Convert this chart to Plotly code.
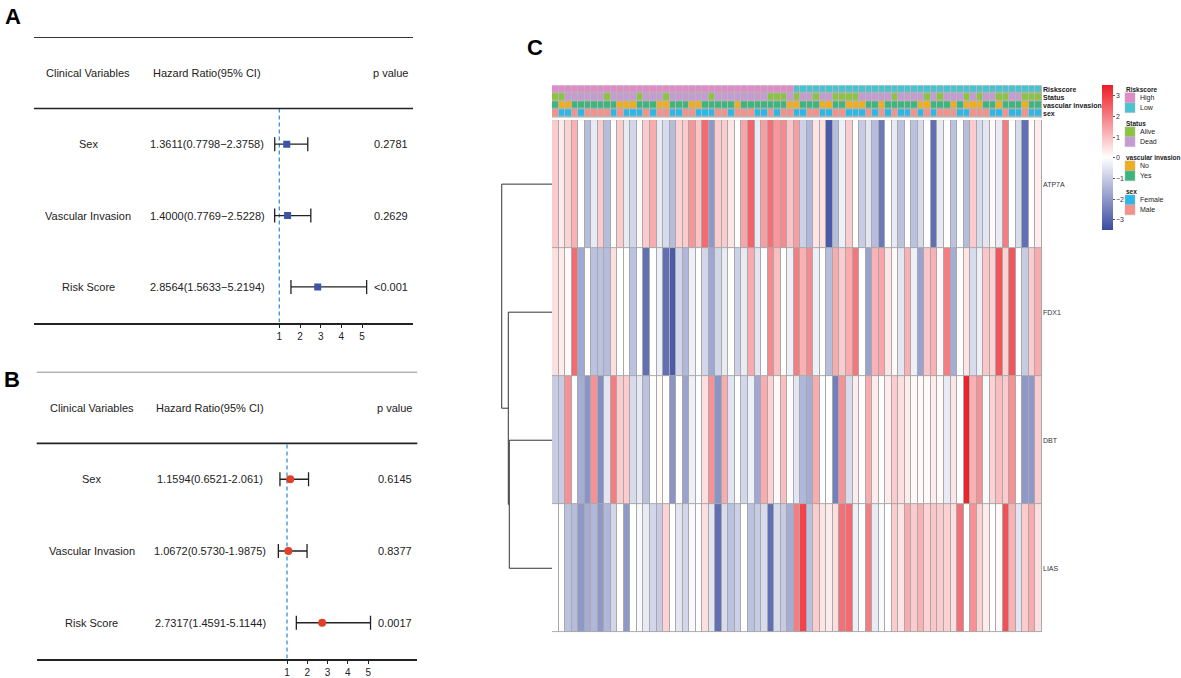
import plotly.graph_objects as go

W, H = 1181, 678
FONT = "Arial, Liberation Sans, sans-serif"

# ---------------- forest plot data ----------------
variables = ["Sex", "Vascular Invasion", "Risk Score"]

hr_a = [1.3611, 1.4000, 2.8564]
lo_a = [0.7798, 0.7769, 1.5633]
hi_a = [2.3758, 2.5228, 5.2194]
hr_text_a = ["1.3611(0.7798\u22122.3758)", "1.4000(0.7769\u22122.5228)", "2.8564(1.5633\u22125.2194)"]
p_a = ["0.2781", "0.2629", "<0.001"]

hr_b = [1.1594, 1.0672, 2.7317]
lo_b = [0.6521, 0.5730, 1.4591]
hi_b = [2.061, 1.9875, 5.1144]
hr_text_b = ["1.1594(0.6521-2.061)", "1.0672(0.5730-1.9875)", "2.7317(1.4591-5.1144)"]
p_b = ["0.6145", "0.8377", "0.0017"]

hr_ticks = [1, 2, 3, 4, 5]
headers = ["Clinical Variables", "Hazard Ratio(95% CI)", "p value"]

# ---------------- heatmap data ----------------
genes = ["ATP7A", "FDX1", "DBT", "LIAS"]
expr_atp7a = [0.8, 0.3, 0.7, 1.2, 0.0, -1.3, -0.4, 0.8, -1.3, 0.0, 0.8, -0.4, -0.8, 0.1, 0.8, 1.3, -0.4, -0.7, -1.3,
              0.7, 0.8, 1.6, 0.9, 2.3, -2.0, 0.8, 0.8, 0.4, 0.0, 1.4, 2.4, -0.4, 1.5, 2.2, 1.6, 1.8, 0.9, 1.5,
              -0.9, -1.4, 0.4, 0.5, -3.2, -1.3, -0.3, 0.8, 0.0, -1.0, -0.5, -1.3, -2.6, 0.0, -0.4, -1.2, 0.0, -1.2, -0.7,
              0.0, -2.8, -0.4, 0.0, -1.2, 0.0, -1.3, 0.8, -0.7, -0.5, 0.1, -0.4, 2.0, 0.0, -0.7, -2.8, 0.0, 0.3]
expr_fdx1 = [0.5, 0.3, 0.1, 2.3, -1.7, 0.0, -1.2, -1.2, -1.3, 0.5, 0.0, 0.0, -1.2, 0.0, -2.8, 0.0, -0.3, -2.8, -3.2,
             -0.8, -1.4, -0.3, 0.0, -0.8, -1.7, -0.8, -0.4, 0.0, -0.9, -0.4, 1.3, -0.5, 0.0, 1.8, 1.0, 0.0, -0.3, 2.0,
             1.2, 1.8, -0.3, 0.0, -1.3, 1.3, 0.8, 1.3, 2.1, 0.0, -1.8, 1.2, 1.4, 0.4, 0.1, -0.5, 1.2, -0.3, -1.8,
             0.9, 1.2, 0.1, 2.0, -1.6, 0.0, 0.4, -0.7, -0.3, 0.9, 0.7, 2.6, 0.7, 2.6, 0.0, -1.0, 0.8, 1.3]
expr_dbt = [-1.0, -1.0, 1.7, 0.0, -1.6, -2.1, 1.7, -2.2, -0.5, 2.0, 0.8, 0.8, -0.7, -0.4, -1.2, 0.0, 0.1, 0.0, -2.1,
            0.0, -1.8, -0.3, 0.0, 0.5, 1.7, -2.1, 1.3, -0.5, 0.0, -0.8, -0.3, -1.7, 1.3, 0.7, 0.1, 1.0, 0.0, -0.5,
            -1.4, -1.6, 1.3, 0.0, 0.0, -2.5, 1.7, -0.7, 0.3, 0.0, 1.3, 0.3, 0.0, 0.3, 0.8, 0.5, 0.3, 0.1, 0.1,
            0.1, 0.3, 0.1, -0.4, 0.4, 0.0, 3.4, 1.2, 1.7, -0.1, 0.7, 1.0, 0.8, 1.7, 0.0, -2.0, -2.0, 0.8]
expr_lias = [0.0, 0.0, -1.2, -1.3, -2.0, -1.6, -1.4, -2.0, -1.4, -0.8, 0.0, -2.0, 0.0, -0.1, -0.4, -0.8, -1.0, 0.7, 0.0,
             -0.5, -0.8, -0.1, 0.0, 0.5, -0.5, -2.8, -0.7, -1.2, -0.9, 0.0, -1.2, -1.0, -0.7, -2.8, -0.7, -1.0, -1.6, 2.0,
             2.9, -1.2, 0.8, 0.4, 0.3, 0.5, 2.2, 2.3, -0.3, 0.0, 2.0, -0.4, -0.1, 0.0, 0.8, 0.4, 1.3, 0.8, 1.2,
             0.7, 0.9, 0.8, 0.7, 0.5, 2.2, 0.0, 1.7, 0.7, 0.3, 0.0, 0.1, 2.7, 1.2, -0.5, 0.8, 1.3, 0.5]
color_ticks = [-3, -2, -1, 0, 1, 2, 3]

# sample annotations (one letter per sample)
anno_riskscore = "HHHHHHHHHHHHHHHHHHHHHHHHHHHHHHHHHHHHHLLLLLLLLLLLLLLLLLLLLLLLLLLLLLLLLLLLLLL"
anno_status = "AADDDDDDADDDDADDDADDDDDDADDDDDDDDAAADADDADDAAAADDDDDADDDDADADDDADADDAADDAAA"
anno_vascular = "YNNYYYYYYYNNNYYYNNYYYNNYYYYYNYYYYYYYNNYYYNNYYNNNYYNYYYYYNNYYYNYNNNYYNYYYNYY"
anno_sex = "MFFMFMMMMFMFFFMFMMFFMMFFFMMFMMMFFMFMMFFMMFFMMFFFMFMFMFFMFMFMMMFFMMMFFMFFMFF"

anno_names = ["Riskscore", "Status", "vascular invasion", "sex"]
anno_codes = [{"H": "High", "L": "Low"}, {"A": "Alive", "D": "Dead"},
              {"N": "No", "Y": "Yes"}, {"F": "Female", "M": "Male"}]
anno_levels = [["High", "Low"], ["Alive", "Dead"], ["No", "Yes"], ["Female", "Male"]]
anno_colors = {"High": "#E08AC8", "Low": "#48C3CF", "Alive": "#8CC43F", "Dead": "#C69AD3",
               "No": "#F0AE1E", "Yes": "#3DB57C", "Female": "#2BB7E8", "Male": "#F3918A"}

# row dendrogram (children indices: 0-3 leaves, 4+ merged clusters) and merge heights
dend_children = [(2, 3), (1, 4), (0, 5)]
dend_heights = [6.54, 6.69, 7.70]


def fx(p):
    return p / W


def fy(p):
    return 1 - p / H


fig = go.Figure()
annotations = []
shapes = []
layout_axes = {}

# ---------------- forest plots ----------------
panels = [
    dict(xa="x", ya="y", ax="xaxis", ay="yaxis", hr=hr_a, lo=lo_a, hi=hi_a, txt=hr_text_a, p=p_a,
         left=34, right=413, one=279.3, unit=20.7, top=37.4, bottom=325,
         clin_x=88, hr_x=207, p_x=410,
         marker=dict(symbol="square", size=7, color="#3D55A5"), topline="#333333"),
    dict(xa="x2", ya="y2", ax="xaxis2", ay="yaxis2", hr=hr_b, lo=lo_b, hi=hi_b, txt=hr_text_b, p=p_b,
         left=36.7, right=417.3, one=287, unit=20.3, top=374.4, bottom=663.5,
         clin_x=91.5, hr_x=210, p_x=413.5,
         marker=dict(symbol="circle", size=8, color="#E0402B"), topline="#6E6E6E"),
]

n = len(variables)
rows = [n - i for i in range(n)]
for P in panels:
    # reference line at HR = 1
    fig.add_trace(go.Scatter(x=[1, 1], y=[0.5, n + 0.5], mode="lines",
                             line=dict(color="#3A8FD8", width=1.3, dash="4px,3px"),
                             xaxis=P["xa"], yaxis=P["ya"], hoverinfo="skip"))
    fig.add_trace(go.Scatter(
        x=P["hr"], y=rows, mode="markers", marker=P["marker"],
        error_x=dict(type="data", symmetric=False,
                     array=[h - m for h, m in zip(P["hi"], P["hr"])],
                     arrayminus=[m - l for m, l in zip(P["hr"], P["lo"])],
                     color="#222222", thickness=1.3, width=7),
        xaxis=P["xa"], yaxis=P["ya"]))
    layout_axes[P["ax"]] = dict(
        domain=[fx(P["left"]), fx(P["right"])],
        range=[1 - (P["one"] - P["left"]) / P["unit"], 1 + (P["right"] - P["one"]) / P["unit"]],
        tickvals=hr_ticks, ticks="outside", ticklen=4, tickwidth=1, tickcolor="#222",
        showline=True, linecolor="#222222", linewidth=1.6, showgrid=False, zeroline=False,
        tickfont=dict(size=10, color="#222", family=FONT), anchor=P["ya"], fixedrange=True)
    layout_axes[P["ay"]] = dict(domain=[fy(P["bottom"]), fy(P["top"])], range=[0.5, n + 1.5],
                                visible=False, anchor=P["xa"], fixedrange=True)
    shapes.append(dict(type="line", xref=P["xa"] + " domain", yref=P["ya"], x0=0, x1=1,
                       y0=n + 1.5, y1=n + 1.5, line=dict(color=P["topline"], width=1.6)))
    shapes.append(dict(type="line", xref=P["xa"] + " domain", yref=P["ya"], x0=0, x1=1,
                       y0=n + 0.5, y1=n + 0.5, line=dict(color="#222222", width=1.6)))
    tf = dict(size=11, color="#222222", family=FONT)
    annotations.append(dict(text=headers[0], x=fx(P["clin_x"]), y=n + 1, xref="paper", yref=P["ya"],
                            showarrow=False, xanchor="center", font=tf))
    annotations.append(dict(text=headers[1], x=fx(P["hr_x"]), y=n + 1, xref="paper", yref=P["ya"],
                            showarrow=False, xanchor="center", font=tf))
    annotations.append(dict(text=headers[2], x=fx(P["p_x"]), y=n + 1, xref="paper", yref=P["ya"],
                            showarrow=False, xanchor="right", font=tf))
    for i in range(n):
        annotations.append(dict(text=variables[i], x=fx(P["clin_x"]), y=rows[i], xref="paper",
                                yref=P["ya"], showarrow=False, xanchor="center", font=tf))
        annotations.append(dict(text=P["txt"][i], x=fx(P["hr_x"]), y=rows[i], xref="paper",
                                yref=P["ya"], showarrow=False, xanchor="center", font=tf))
        annotations.append(dict(text=P["p"][i], x=fx(P["p_x"]), y=rows[i], xref="paper",
                                yref=P["ya"], showarrow=False, xanchor="right", font=tf))

# ---------------- heatmap ----------------
expr = [expr_atp7a, expr_fdx1, expr_dbt, expr_lias]
n_samples = len(expr_atp7a)
samples = list(range(n_samples))
gene_idx = list(range(len(genes)))

fig.add_trace(go.Heatmap(
    z=expr, x=samples, y=gene_idx, zmin=-3.5, zmax=3.5,
    colorscale=[[0, "#3A4CA2"], [0.5, "#FFFFFF"], [1, "#EE1C25"]],
    xgap=1, ygap=1, xaxis="x3", yaxis="y3",
    colorbar=dict(x=fx(1102), xanchor="left", xpad=0, y=fy(159), yanchor="middle", ypad=0,
                  len=145, lenmode="pixels", thickness=11, thicknessmode="pixels",
                  tickvals=color_ticks, ticks="outside", ticklen=2, tickcolor="#555",
                  tickfont=dict(size=7, color="#333", family=FONT), outlinewidth=0)))

HX0, HX1 = 552, 1042
layout_axes["xaxis3"] = dict(domain=[fx(HX0), fx(HX1)], range=[-0.5, n_samples - 0.5], visible=False,
                             anchor="y3", fixedrange=True)
layout_axes["yaxis3"] = dict(domain=[fy(637), fy(121)], range=[len(genes) - 0.5, -0.5],
                             tickvals=gene_idx, ticktext=genes, side="right", anchor="x3",
                             ticks="", showgrid=False, zeroline=False, showline=False,
                             tickfont=dict(size=7, color="#333", family=FONT), fixedrange=True)
shapes.append(dict(type="rect", xref="x3", yref="y3", x0=-0.5, x1=n_samples - 0.5,
                   y0=-0.5, y1=len(genes) - 0.5, fillcolor="#A9A9A9", line=dict(width=0), layer="below"))

# ---------------- annotation bars ----------------
anno_strings = [anno_riskscore, anno_status, anno_vascular, anno_sex]
all_levels = [lv for group in anno_levels for lv in group]
anno_z = []
for codes, s in zip(anno_codes, anno_strings):
    anno_z.append([all_levels.index(codes[ch]) for ch in s])
nl = len(all_levels)
disc_cs = []
for i, lv in enumerate(all_levels):
    disc_cs.append([i / nl, anno_colors[lv]])
    disc_cs.append([(i + 1) / nl, anno_colors[lv]])
anno_idx = list(range(len(anno_names)))
fig.add_trace(go.Heatmap(z=anno_z, x=samples, y=anno_idx, zmin=-0.5, zmax=nl - 0.5,
                         colorscale=disc_cs, showscale=False, xgap=1, ygap=1.5,
                         xaxis="x4", yaxis="y4"))
layout_axes["xaxis4"] = dict(domain=[fx(HX0), fx(HX1)], range=[-0.5, n_samples - 0.5], visible=False,
                             anchor="y4", fixedrange=True)
layout_axes["yaxis4"] = dict(domain=[fy(118.5), fy(86)], range=[len(anno_names) - 0.5, -0.5],
                             tickvals=anno_idx, ticktext=["<b>%s</b>" % a for a in anno_names],
                             side="right", anchor="x4", ticks="", showgrid=False, zeroline=False,
                             showline=False, tickfont=dict(size=7, color="#222", family=FONT),
                             fixedrange=True)
shapes.append(dict(type="rect", xref="x4", yref="y4", x0=-0.5, x1=n_samples - 0.5,
                   y0=-0.5, y1=len(anno_names) - 0.5, fillcolor="#B5B5B5", line=dict(width=0),
                   layer="below"))

# ---------------- dendrogram ----------------
pos = {i: float(i) for i in range(len(genes))}
hgt = {i: 0.0 for i in range(len(genes))}
dx, dy = [], []
for k, ((a, b), h) in enumerate(zip(dend_children, dend_heights)):
    dx += [hgt[a], h, h, hgt[b], None]
    dy += [pos[a], pos[a], pos[b], pos[b], None]
    pos[len(genes) + k] = (pos[a] + pos[b]) / 2
    hgt[len(genes) + k] = h
fig.add_trace(go.Scatter(x=dx, y=dy, mode="lines", line=dict(color="#333333", width=1),
                         xaxis="x5", yaxis="y5", hoverinfo="skip"))
layout_axes["xaxis5"] = dict(domain=[fx(490), fx(HX0)], range=[(HX0 - 490) / 6.53, 0], visible=False,
                             anchor="y5", fixedrange=True)
layout_axes["yaxis5"] = dict(domain=[fy(637), fy(121)], range=[len(genes) - 0.5, -0.5], visible=False,
                             anchor="x5", fixedrange=True)

# ---------------- annotation legend ----------------
for g, (name, levels) in enumerate(zip(anno_names, anno_levels)):
    ty = 90 + g * 34.3
    annotations.append(dict(text="<b>%s</b>" % name, x=fx(1124), y=fy(ty), xref="paper", yref="paper",
                            showarrow=False, xanchor="left", yanchor="middle",
                            font=dict(size=6.5, color="#222", family=FONT)))
    for i, lv in enumerate(levels):
        top = ty + 3.5 + i * 10
        shapes.append(dict(type="rect", xref="paper", yref="paper", x0=fx(1125), x1=fx(1135),
                           y0=fy(top + 10), y1=fy(top), fillcolor=anno_colors[lv],
                           line=dict(color="#BBBBBB", width=0.5)))
        annotations.append(dict(text=lv, x=fx(1137.5), y=fy(top + 5), xref="paper", yref="paper",
                                showarrow=False, xanchor="left", yanchor="middle",
                                font=dict(size=7, color="#222", family=FONT)))

# ---------------- panel letters ----------------
for letter, (lx, ly) in zip(["A", "B", "C"], [(13, 17), (12, 382), (535, 48)]):
    annotations.append(dict(text="<b>%s</b>" % letter, x=fx(lx), y=fy(ly), xref="paper", yref="paper",
                            showarrow=False, xanchor="center", yanchor="middle",
                            font=dict(size=22, color="#000", family=FONT)))

fig.update_layout(
    width=W, height=H, margin=dict(l=0, r=0, t=0, b=0),
    paper_bgcolor="white", plot_bgcolor="white", showlegend=False,
    font=dict(family=FONT), annotations=annotations, shapes=shapes, **layout_axes)

fig.write_html("out.html", config={"displayModeBar": False},
               post_script="document.body.style.margin='0';document.body.style.overflow='hidden';")
